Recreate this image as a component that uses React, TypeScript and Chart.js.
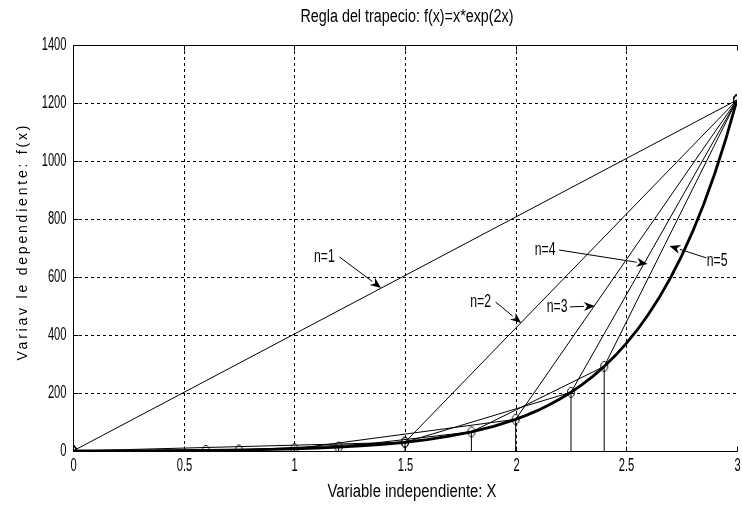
import React, { useEffect, useRef } from "react";
import { Chart, registerables } from "chart.js";
Chart.register(...registerables);

const FONT = "'Liberation Sans', Arial, sans-serif";

const chartTitle = "Regla del trapecio: f(x)=x*exp(2x)";
const xTitle = "Variable independiente: X";
const yTitle = "Variav le dependiente: f(x)";

const xTicks = [0, 0.5, 1, 1.5, 2, 2.5, 3];
const yTicks = [0, 200, 400, 600, 800, 1000, 1200, 1400];

// f(x) curve
const curveX = [0, 0.1, 0.2, 0.3, 0.4, 0.5, 0.6, 0.7, 0.8, 0.9, 1.0, 1.1, 1.2, 1.3, 1.4, 1.5, 1.6, 1.7, 1.8, 1.9, 2.0, 2.05, 2.1, 2.15, 2.2, 2.25, 2.3, 2.35, 2.4, 2.45, 2.5, 2.55, 2.6, 2.65, 2.7, 2.75, 2.8, 2.85, 2.9, 2.95, 3.0];
const curveY = [0, 0.12, 0.3, 0.55, 0.89, 1.36, 1.99, 2.84, 3.96, 5.45, 7.39, 9.93, 13.23, 17.5, 23.02, 30.13, 39.25, 50.94, 65.88, 84.93, 109.2, 123.7, 140.04, 158.45, 179.19, 202.54, 228.81, 258.38, 291.62, 329.01, 371.03, 418.25, 471.31, 530.9, 597.8, 672.9, 757.2, 851.78, 957.87, 1076.9, 1210.29];

// trapezoid chords
const n1X = [0, 3];
const n1Y = [0, 1210.29];
const n2X = [0, 1.5, 3];
const n2Y = [0, 30.13, 1210.29];
const n3X = [0, 1, 2, 3];
const n3Y = [0, 7.39, 109.2, 1210.29];
const n4X = [0, 0.75, 1.5, 2.25, 3];
const n4Y = [0, 3.36, 30.13, 202.54, 1210.29];
const n5X = [0, 0.6, 1.2, 1.8, 2.4, 3];
const n5Y = [0, 1.99, 13.23, 65.88, 291.62, 1210.29];

// vertical stems at nodes
const stemX = [0.6, 0.75, 1, 1.2, 1.5, 1.8, 2, 2.25, 2.4];
const stemY = [1.99, 3.36, 7.39, 13.23, 30.13, 65.88, 109.2, 202.54, 291.62];

const arrowLabels = ["n=1", "n=2", "n=3", "n=4", "n=5"];

const pts = (xs: number[], ys: number[]) => xs.map((x, i) => ({ x, y: ys[i] }));

function drawCond(ctx: CanvasRenderingContext2D, text: string, x: number, y: number, size: number, sx: number, align: CanvasTextAlign) {
  ctx.save();
  ctx.font = `${size}px ${FONT}`;
  ctx.textBaseline = "middle";
  ctx.textAlign = align;
  ctx.fillStyle = "#000";
  ctx.translate(x, y);
  ctx.scale(sx, 1);
  ctx.fillText(text, 0, 0);
  ctx.restore();
}

function fitScale(ctx: CanvasRenderingContext2D, text: string, size: number, w: number) {
  ctx.save();
  ctx.font = `${size}px ${FONT}`;
  const m = ctx.measureText(text).width;
  ctx.restore();
  return w / m;
}

export default function App() {
  const ref = useRef<HTMLCanvasElement>(null);
  useEffect(() => {
    const canvas = ref.current!;
    const marker = document.createElement("canvas");
    marker.width = 10;
    marker.height = 13;
    const mc = marker.getContext("2d")!;
    mc.strokeStyle = "#000";
    mc.lineWidth = 1;
    mc.beginPath();
    mc.ellipse(5, 6.5, 3.5, 5, 0, 0, Math.PI * 2);
    mc.stroke();

    const stemData: any[] = [];
    stemX.forEach((x, i) => {
      stemData.push({ x, y: 0 }, { x, y: stemY[i] }, { x, y: NaN });
    });

    // annotation geometry in data units
    const annots = [
      { text: arrowLabels[0], tx: 1.136, ty: 669, ax: 1.204, ay: 669, bx: 1.392, by: 562 },
      { text: arrowLabels[1], tx: 1.842, ty: 514, ax: 1.909, ay: 514, bx: 2.025, by: 441 },
      { text: arrowLabels[2], tx: 2.187, ty: 497, ax: 2.245, ay: 497, bx: 2.358, by: 500 },
      { text: arrowLabels[3], tx: 2.133, ty: 693, ax: 2.196, ay: 693, bx: 2.596, by: 645 },
      { text: arrowLabels[4], tx: 2.91, ty: 655, ax: 2.861, ay: 666, bx: 2.695, by: 707 },
    ];

    const TICK_SIZE = 18;
    const TICK_SX = 0.62;

    const decor = {
      id: "decor",
      beforeDatasetsDraw(chart: any) {
        const { ctx, chartArea: a, scales } = chart;
        ctx.save();
        ctx.strokeStyle = "#000";
        ctx.lineWidth = 1;
        ctx.setLineDash([3, 3]);
        xTicks.forEach((v) => {
          if (v === 0 || v === 3) return;
          const x = Math.round(scales.x.getPixelForValue(v)) + 0.5;
          ctx.beginPath();
          ctx.moveTo(x, a.top);
          ctx.lineTo(x, a.bottom);
          ctx.stroke();
        });
        yTicks.forEach((v) => {
          if (v === 0 || v === 1400) return;
          const y = Math.round(scales.y.getPixelForValue(v)) + 0.5;
          ctx.beginPath();
          ctx.moveTo(a.left, y);
          ctx.lineTo(a.right, y);
          ctx.stroke();
        });
        ctx.restore();
      },
      afterDatasetsDraw(chart: any) {
        const { ctx, chartArea: a, scales } = chart;
        ctx.save();
        ctx.strokeStyle = "#000";
        ctx.lineWidth = 1;
        ctx.setLineDash([]);
        const L = Math.round(a.left) + 0.5;
        const T = Math.round(a.top) + 0.5;
        const B = Math.round(a.bottom) + 0.5;
        const R = Math.round(a.right) + 0.5;
        ctx.beginPath();
        ctx.moveTo(R, T);
        ctx.lineTo(L, T);
        ctx.lineTo(L, B);
        ctx.lineTo(R, B);
        ctx.stroke();
        xTicks.forEach((v) => {
          const x = Math.round(scales.x.getPixelForValue(v)) + 0.5;
          ctx.beginPath();
          ctx.moveTo(x, T);
          ctx.lineTo(x, T + 5);
          ctx.moveTo(x, B);
          ctx.lineTo(x, B - 5);
          ctx.stroke();
          drawCond(ctx, String(v), x, B + 15, TICK_SIZE, TICK_SX, "center");
        });
        yTicks.forEach((v) => {
          const y = Math.round(scales.y.getPixelForValue(v)) + 0.5;
          ctx.beginPath();
          ctx.moveTo(L, y);
          ctx.lineTo(L + 5, y);
          ctx.stroke();
          drawCond(ctx, String(v), L - 7, y, TICK_SIZE, TICK_SX, "right");
        });

        // annotations
        ctx.fillStyle = "#000";
        annots.forEach((n) => {
          const tx = scales.x.getPixelForValue(n.tx);
          const ty = scales.y.getPixelForValue(n.ty);
          const ax = scales.x.getPixelForValue(n.ax);
          const ay = scales.y.getPixelForValue(n.ay);
          const bx = scales.x.getPixelForValue(n.bx);
          const by = scales.y.getPixelForValue(n.by);
          drawCond(ctx, n.text, tx, ty, TICK_SIZE, 0.68, "center");
          const ang = Math.atan2(by - ay, bx - ax);
          const len = 11;
          const hw = 4.5;
          const baseX = bx - len * Math.cos(ang);
          const baseY = by - len * Math.sin(ang);
          ctx.beginPath();
          ctx.moveTo(ax, ay);
          ctx.lineTo(baseX, baseY);
          ctx.stroke();
          ctx.beginPath();
          ctx.moveTo(bx, by);
          ctx.lineTo(baseX + hw * Math.sin(ang), baseY - hw * Math.cos(ang));
          ctx.lineTo(bx - 0.7 * len * Math.cos(ang), by - 0.7 * len * Math.sin(ang));
          ctx.lineTo(baseX - hw * Math.sin(ang), baseY + hw * Math.cos(ang));
          ctx.closePath();
          ctx.fill();
        });

        // titles
        drawCond(ctx, chartTitle, 407, 17, TICK_SIZE, fitScale(ctx, chartTitle, TICK_SIZE, 213), "center");
        drawCond(ctx, xTitle, 412, 492, TICK_SIZE, fitScale(ctx, xTitle, TICK_SIZE, 169), "center");

        ctx.save();
        ctx.font = `14px ${FONT}`;
        const w = ctx.measureText(yTitle).width;
        const total = 235;
        const ls = (total - w) / (yTitle.length - 1);
        (ctx as any).letterSpacing = `${ls.toFixed(2)}px`;
        ctx.fillStyle = "#000";
        ctx.textAlign = "left";
        ctx.textBaseline = "middle";
        ctx.translate(23, 243);
        ctx.rotate(-Math.PI / 2);
        ctx.fillText(yTitle, -total / 2, 0);
        ctx.restore();
        ctx.restore();
      },
    };

    const thin = (data: any[]) => ({
      data,
      borderColor: "#000",
      borderWidth: 1,
      pointStyle: marker,
      pointRadius: 4,
      showLine: true,
      tension: 0,
    });

    const chart = new Chart(canvas, {
      type: "scatter",
      data: {
        datasets: [
          { ...thin(pts(n1X, n1Y)) },
          { ...thin(pts(n2X, n2Y)) },
          { ...thin(pts(n3X, n3Y)) },
          { ...thin(pts(n4X, n4Y)) },
          { ...thin(pts(n5X, n5Y)) },
          {
            data: stemData,
            borderColor: "#000",
            borderWidth: 1,
            pointRadius: 0,
            showLine: true,
            spanGaps: false,
          },
          {
            data: pts(curveX, curveY),
            borderColor: "#000",
            borderWidth: 2.8,
            pointRadius: 0,
            showLine: true,
            tension: 0,
          },
        ],
      },
      options: {
        responsive: false,
        animation: false,
        events: [],
        layout: { padding: { top: 45, left: 0, right: 1, bottom: 0 } },
        plugins: { legend: { display: false }, tooltip: { enabled: false }, title: { display: false } },
        scales: {
          x: {
            type: "linear",
            min: 0,
            max: 3,
            grid: { display: false, drawTicks: false },
            border: { display: false },
            ticks: { display: false },
            afterFit: (s: any) => {
              s.height = 58;
              s.paddingLeft = 0;
              s.paddingRight = 0;
            },
          },
          y: {
            min: 0,
            max: 1400,
            grid: { display: false, drawTicks: false },
            border: { display: false },
            ticks: { display: false },
            afterFit: (s: any) => {
              s.width = 73;
              s.paddingTop = 0;
              s.paddingBottom = 0;
            },
          },
        },
      },
      plugins: [decor],
    });
    return () => chart.destroy();
  }, []);
  return (
    <div style={{ position: "absolute", left: 0, top: 0, width: 742, height: 509, background: "#fff" }}>
      <canvas ref={ref} width={742} height={509} style={{ width: 742, height: 509 }} />
    </div>
  );
}
